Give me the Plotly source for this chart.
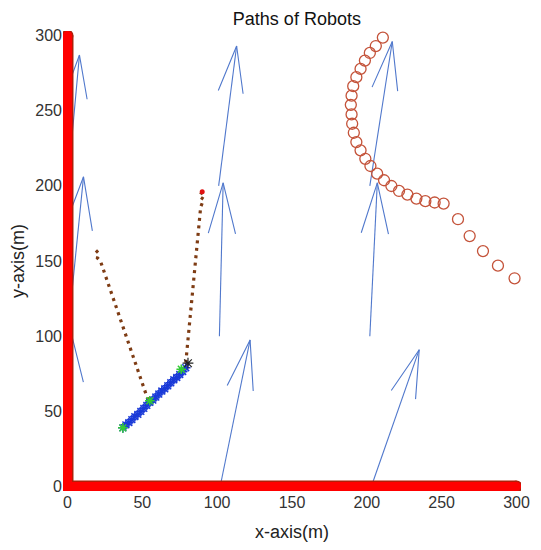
import plotly.graph_objects as go

# ---------------------------------------------------------------------------
# Data
# ---------------------------------------------------------------------------

# thick red boundary (left wall + floor)
wall_x = [0, 0, 300]
wall_y = [300, 0, 0]

# flow field arrows: base points and vector components
arrow_x = [0, 102, 203, 0, 101.5, 202, 0, 101, 202]
arrow_y = [0, 0, 0, 100, 100, 100, 200, 200, 200]
arrow_u = [2, 20, 32, 10.7, 2.5, 5, 8, 12, 15]
arrow_v = [104, 97.5, 91, 106, 102, 102, 87, 93, 96]

# robot 1: dotted path into the swarm
path1_x = [19, 21, 20, 22, 54]
path1_y = [157, 155, 152, 150, 57]

# robot 2: dotted path from the upper start
path2_x = [90, 88, 91, 89, 79]
path2_y = [196, 193, 191, 186, 82]

# swarm of robots (asterisks)
swarm_x = [37, 39, 41, 43, 45, 47, 49, 51, 53, 55, 57, 59, 61, 63, 65, 67,
           69, 71, 73, 75, 77, 79]
swarm_y = [39, 41, 42.5, 44.5, 46.5, 48, 50, 52, 54, 56, 57.5, 59.5, 61.5,
           63.5, 65, 67, 69, 71, 72.5, 74.5, 76.5, 79]
swarm_end_x = [37, 55, 76]
swarm_end_y = [39, 57, 78]
leader_x = [80.5]
leader_y = [82]

# robot 3: open circle path
circ_x = [210.7, 206, 202, 198.7, 195.8, 193, 190.9, 189.8, 189.3, 189.8,
          190.2, 191.3, 193, 195.8, 199, 202.4, 206.9, 211.5, 216.4, 221.5,
          227.1, 233.1, 239.1, 245.3, 251.3, 260.9, 268.7, 277.6, 287.6, 298.7]
circ_y = [298.6, 293, 288.4, 283.3, 277.8, 272.3, 266.3, 260, 253.9, 247.5,
          241.3, 235.3, 229.1, 223.6, 218, 213.2, 208.1, 203.7, 199.9, 196.6,
          194.2, 191.5, 189.8, 188.9, 188.2, 177.8, 166.6, 156.6, 146.9, 138.5]

ticks = [0, 50, 100, 150, 200, 250, 300]

FONT = "Liberation Sans, Arial, sans-serif"


def quiver_segments(xs, ys, us, vs, alpha=0.33, beta=0.27):
    """Shaft + arrow head polylines, MATLAB quiver style."""
    px, py = [], []
    for x, y, u, v in zip(xs, ys, us, vs):
        tx, ty = x + u, y + v
        px += [x, tx, None]
        py += [y, ty, None]
        px += [tx - alpha * (u + beta * v), tx, tx - alpha * (u - beta * v), None]
        py += [ty - alpha * (v - beta * u), ty, ty - alpha * (v + beta * u), None]
    return px, py


qx, qy = quiver_segments(arrow_x, arrow_y, arrow_u, arrow_v)

fig = go.Figure()

fig.add_trace(go.Scatter(
    x=qx, y=qy, mode="lines",
    line=dict(color="#5078cc", width=1.1),
    hoverinfo="skip",
))

# boundary: dark rim under a bright red core, rounded ends
fig.add_trace(go.Scatter(
    x=wall_x, y=wall_y, mode="lines+markers",
    line=dict(color="#b01e08", width=12),
    marker=dict(color="#b01e08", size=12, line=dict(width=0)),
    hoverinfo="skip",
))
fig.add_trace(go.Scatter(
    x=wall_x, y=wall_y, mode="lines+markers",
    line=dict(color="#ff0000", width=9),
    marker=dict(color="#ff0000", size=9, line=dict(width=0)),
    hoverinfo="skip",
))

for px_, py_ in [(path1_x, path1_y), (path2_x, path2_y)]:
    fig.add_trace(go.Scatter(
        x=px_, y=py_, mode="lines",
        line=dict(color="#7e3c14", width=3.2, dash="3px,4.5px"),
        hoverinfo="skip",
    ))

fig.add_trace(go.Scatter(
    x=[path2_x[0]], y=[path2_y[0]], mode="markers",
    marker=dict(color="#e01010", size=5),
    hoverinfo="skip",
))

fig.add_trace(go.Scatter(
    x=swarm_x, y=swarm_y, mode="markers",
    marker=dict(symbol="asterisk-open", size=8, color="#1a3ad8",
                line=dict(color="#1a3ad8", width=1.5)),
    hoverinfo="skip",
))
fig.add_trace(go.Scatter(
    x=swarm_end_x, y=swarm_end_y, mode="markers",
    marker=dict(symbol="asterisk-open", size=8, color="#33cc33",
                line=dict(color="#33cc33", width=1.5)),
    hoverinfo="skip",
))
fig.add_trace(go.Scatter(
    x=leader_x, y=leader_y, mode="markers",
    marker=dict(symbol="asterisk-open", size=9, color="#222222",
                line=dict(color="#222222", width=1.2)),
    hoverinfo="skip",
))

fig.add_trace(go.Scatter(
    x=circ_x, y=circ_y, mode="markers",
    marker=dict(symbol="circle-open", size=11, color="#c4533a",
                line=dict(color="#c4533a", width=1.3)),
    hoverinfo="skip",
))

# page body adds an 8px offset; margins compensate for it
fig.update_layout(
    width=541,
    height=550,
    showlegend=False,
    paper_bgcolor="white",
    plot_bgcolor="white",
    margin=dict(l=54.5, r=27.5, t=22.5, b=66.5, autoexpand=False),
    font=dict(family=FONT, color="#333333"),
    title=dict(
        text="Paths of Robots",
        x=0.534, xanchor="center",
        y=0.992, yanchor="top",
        font=dict(size=18, color="#111111"),
    ),
    xaxis=dict(
        range=[-3, 303],
        tickvals=ticks,
        ticks="",
        showgrid=False,
        zeroline=False,
        showline=False,
        tickfont=dict(size=16, color="#333333"),
        title=dict(text="x-axis(m)", font=dict(size=18, color="#222222"), standoff=15),
    ),
    yaxis=dict(
        range=[-3, 303],
        tickvals=ticks,
        ticks="",
        showgrid=False,
        zeroline=False,
        showline=False,
        tickfont=dict(size=16, color="#333333"),
        title=dict(text="y-axis(m)", font=dict(size=18, color="#222222"), standoff=9),
    ),
)

fig.write_html("out.html")
